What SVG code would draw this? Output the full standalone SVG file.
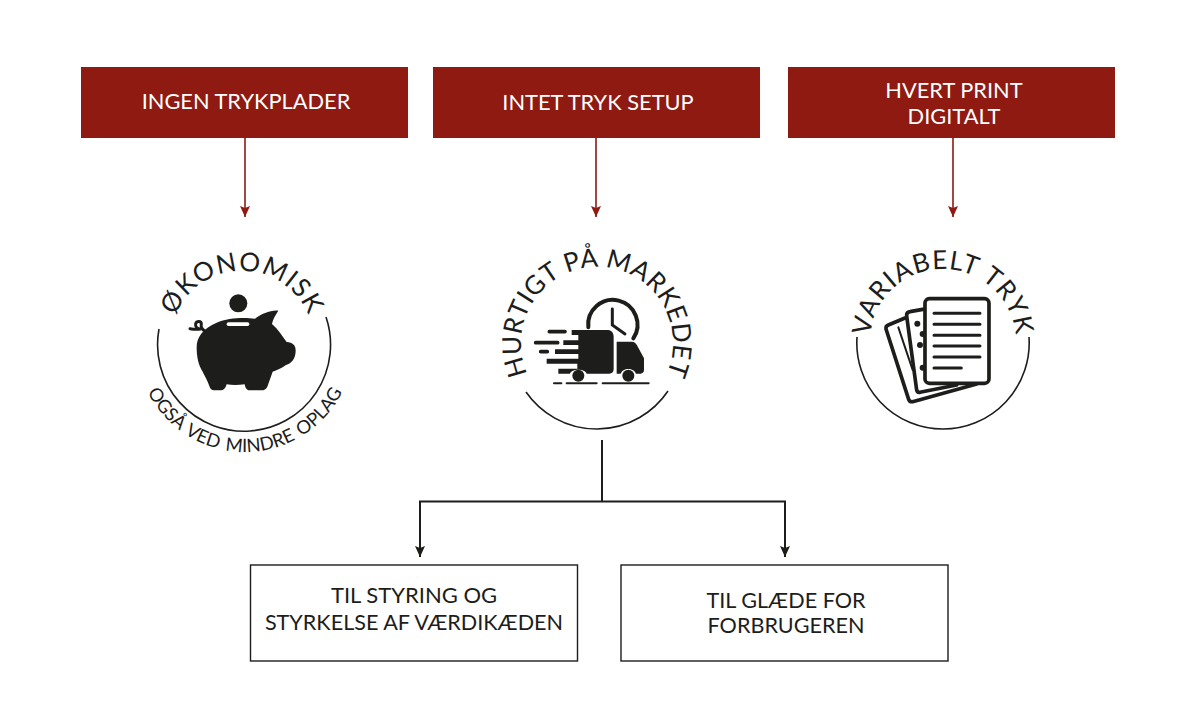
<svg xmlns="http://www.w3.org/2000/svg" width="1200" height="727" viewBox="0 0 1200 727">
<style>
text{font-family:Lato,"Liberation Sans",sans-serif;fill:#1d1d1b}
.hd{fill:#8f1a12}
.ht{fill:#fff;font-size:21.800px;text-anchor:middle}
.bt{font-size:21.600px;text-anchor:middle}
.arc{fill:none;stroke:#1d1d1b;stroke-width:1.6}
.box{fill:#fff;stroke:#1d1d1b;stroke-width:1.4}
.c{font-size:26px;text-anchor:middle}
.ink{fill:#1d1d1b}
.ln{fill:none;stroke:#1d1d1b;stroke-linecap:round}
.rc{stroke:#8f1a12;stroke-width:1.6;fill:none}
.kc{stroke:#1d1d1b;stroke-width:2;fill:none}
</style>
<defs>
<marker id="ar" markerUnits="userSpaceOnUse" markerWidth="11" markerHeight="10" refX="11" refY="5" orient="auto"><path d="M0,0L11,5L0,10L2,5Z" fill="#8f1a12"/></marker>
<marker id="ak" markerUnits="userSpaceOnUse" markerWidth="11" markerHeight="10" refX="11" refY="5" orient="auto"><path d="M0,0L11,5L0,10L2,5Z" fill="#1d1d1b"/></marker>
<path id="p1" d="M242,415A72,72 0 1 1 242,271A72,72 0 1 1 242,415"/>
<path id="p1b" d="M136,343A109,109 0 0 0 354,343"/>
<path id="p2t" d="M597,419A76,76 0 1 1 597,267A76,76 0 1 1 597,419"/>
<path id="p3" d="M943,415A73,73 0 1 1 943,269A73,73 0 1 1 943,415"/>
</defs>
<g id="connectors">
<path class="rc" d="M245,138V217" marker-end="url(#ar)"/>
<path class="rc" d="M596,138V217" marker-end="url(#ar)"/>
<path class="rc" d="M953,138V217" marker-end="url(#ar)"/>
<path class="kc" d="M602,440V501.500M420,550V501.500H785V550"/>
<path class="kc" d="M420,548V557" marker-end="url(#ak)"/>
<path class="kc" d="M785,548V557" marker-end="url(#ak)"/>
</g>
<g id="head-1"><rect class="hd" x="81" y="67" width="327" height="71"/><text class="ht" x="246" y="109">INGEN TRYKPLADER</text></g>
<g id="head-2"><rect class="hd" x="433" y="67" width="327" height="71"/><text class="ht" x="598" y="110">INTET TRYK SETUP</text></g>
<g id="head-3"><rect class="hd" x="788" y="67" width="327" height="71"/><text class="ht" x="954" y="98">HVERT PRINT</text><text class="ht" x="954" y="124">DIGITALT</text></g>
<g id="okonomisk">
<path class="arc" d="M159,329A86.500,86.500 0 1 0 326,317"/>
<text class="c" letter-spacing="1"><textPath href="#p1" startOffset="50%">ØKONOMISK</textPath></text>
<text style="font-size:18.500px;text-anchor:middle" word-spacing="2"><textPath href="#p1b" startOffset="50%">OGSÅ VED MINDRE OPLAG</textPath></text>
<g transform="translate(130,230) scale(.3333)">
<circle class="ink" cx="325" cy="220" r="27"/>
<path class="ink" d="M200,352C200,320 220,295 260,278C295,262 345,262 375,266C395,252 420,240 445,242C437,255 428,268 426,282C445,298 458,320 470,336C488,338 497,345 497,362C497,385 485,400 468,405C455,415 440,420 428,425L412,470C408,478 402,481 395,481H358C350,481 346,474 344,463C325,466 305,466 290,463C287,474 282,481 274,481H252C245,481 241,477 238,468C232,450 225,440 218,425C205,405 200,380 200,352Z"/>
<rect x="290" y="277" width="68" height="11" rx="5" fill="#fff"/>
<path class="ln" stroke-width="9" d="M225,303C215,298 212,290 214,282C214,272 200,272 197,281C195,291 202,297 212,297C200,299 190,298 180,296"/>
</g>
</g>
<g id="hurtigt">
<path class="arc" d="M526,392A86,86 0 0 0 668,391"/>
<text class="c" letter-spacing=".350"><textPath href="#p2t" startOffset="50%">HURTIGT PÅ MARKEDET</textPath></text>
<g transform="translate(490,230) scale(.3333)">
<path class="ln" stroke-width="12" d="M295,292A74,74 0 1 1 430,325"/>
<path class="ln" stroke-width="9" d="M367,237V285L405,312"/>
<path class="ink" d="M245,300H352C364,300 371,308 371,320V418C371,426 366,431 358,431H290C285,415 245,415 240,431H205V416H262V401H170V386H265V372H195V358H265V345H220V331H265V315H245Z"/>
<path class="ink" d="M380,335H425C433,335 438,340 441,346L462,385V420C462,426 458,431 452,431H438C432,412 398,412 392,431H380Z"/>
<circle class="ink" cx="265" cy="437" r="18"/><circle class="ink" cx="415" cy="437" r="18"/>
<path class="ln" stroke-width="11" d="M178,305H225M137,338H203M152,365H172"/>
<path class="ln" stroke-width="6" d="M192,460H214M230,460H320M338,460H476"/>
</g>
</g>
<g id="variabelt">
<path class="arc" d="M857,337A86.200,86.200 0 1 0 1029,337"/>
<text class="c" letter-spacing="1"><textPath href="#p3" startOffset="50%">VARIABELT TRYK</textPath></text>
<g transform="translate(840,230) scale(.3333)" stroke="#1d1d1b" fill="#fff" stroke-linejoin="round">
<path stroke-width="11" d="M145,285L195,264L300,260L410,462L218,515C212,516 208,514 206,508L138,297C137,291 140,287 145,285Z"/>
<path class="ln" stroke-width="6" d="M175,292L218,420"/>
<path stroke-width="11" d="M210,245L265,235L350,465L240,487C234,488 231,485 230,480L200,258C199,250 203,246 210,245Z"/>
<rect x="255" y="206" width="192" height="254" rx="13" stroke-width="11"/>
<path class="ln" stroke-width="9" d="M282,250H420M282,283H420M282,316H420M282,348H420M282,381H420M282,414H364"/>
<g class="ink" stroke="none"><circle cx="232" cy="281" r="9"/><circle cx="248" cy="312" r="9"/><circle cx="240" cy="345" r="9"/><circle cx="248" cy="413" r="9"/></g>
</g>
</g>
<g id="box-1"><rect class="box" x="250.500" y="565" width="327" height="96"/><text class="bt" x="414" y="603" style="font-size:22px">TIL STYRING OG</text><text class="bt" x="414" y="630">STYRKELSE AF VÆRDIKÆDEN</text></g>
<g id="box-2"><rect class="box" x="621" y="565" width="327" height="96"/><text class="bt" x="786" y="608">TIL GLÆDE FOR</text><text class="bt" x="786" y="633">FORBRUGEREN</text></g>
</svg>
